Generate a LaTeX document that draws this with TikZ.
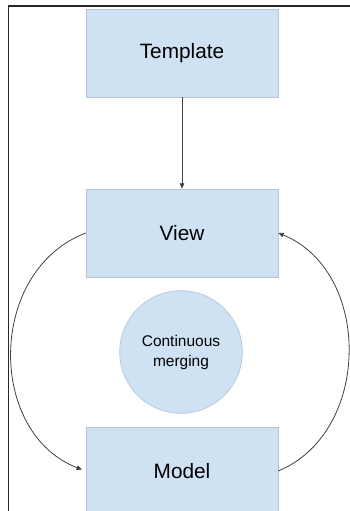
\documentclass[tikz,border=0pt]{standalone}
\usepackage{fontspec}
\setmainfont{Liberation Sans}
\usepackage{xcolor}
\usepackage{tikz}
\usetikzlibrary{arrows.meta}

\begin{document}
\begin{tikzpicture}[x=0.75pt,y=0.75pt,yscale=-1,xscale=1,
  block/.style={draw={rgb, 255:red, 183; green, 196; blue, 210 },fill={rgb, 255:red, 207; green, 226; blue, 243 },line width=0.5pt,minimum width=144pt,minimum height=66pt,inner sep=0pt,font=\fontsize{15.6}{18}\selectfont},
  merge/.style={circle,draw={rgb, 255:red, 183; green, 196; blue, 210 },fill={rgb, 255:red, 207; green, 226; blue, 243 },line width=0.5pt,minimum size=92pt,inner sep=0pt,align=center,font=\fontsize{11.6}{15}\selectfont},
  link/.style={draw={rgb, 255:red, 64; green, 64; blue, 64 },line width=0.6pt,-{Triangle[length=4pt,width=3.4pt]}}]
\useasboundingbox (0,0) rectangle (350,511);
\clip (0,0) rectangle (350,511);

%Frame
\draw [color={rgb, 255:red, 40; green, 40; blue, 40 },line width=1.1pt]   (8.5,511) -- (8.5,6) -- (350,6) ;

%Shape: Rectangle
\node [block] (template) at (182,53) {Template};
%Shape: Rectangle
\node [block] (view) at (182,233) {View};
%Shape: Rectangle
\node [block] (model) at (182,471) {Model};
%Shape: Circle
\node [merge] (merging) at (181,352) {Continuous\\merging};

%Straight Lines
\draw [link]   (template) -- (view) ;
%Curve Lines
\draw [link,shorten >=3pt]   (view.west) .. controls (-13,271) and (-13,433) .. (model.west) ;
%Curve Lines
\draw [link]   (model.east) .. controls (372,432) and (372,271) .. (view.east) ;

\end{tikzpicture}
\end{document}
